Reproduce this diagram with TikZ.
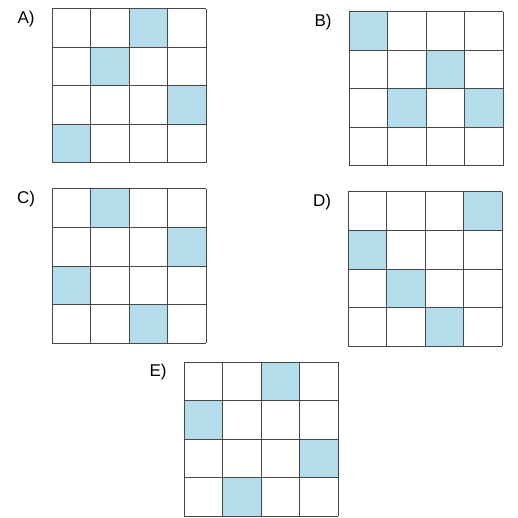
\documentclass[tikz,border=0pt]{standalone}
\usepackage{fontspec}
\setmainfont{Liberation Sans}
\definecolor{cellblue}{RGB}{180,221,235}
\definecolor{gridgray}{RGB}{70,70,70}
\begin{document}
\begin{tikzpicture}
  [x=1pt,y=-1pt,gridline/.style={draw=gridgray,line width=1pt},
   lbl/.style={font=\fontsize{17}{20}\selectfont,inner sep=0pt}]
  \useasboundingbox (0,0) rectangle (517,518);

  % grids: name / left / top / shaded cells (col/row)
  \foreach \name/\x/\y/\cells in {A/52/9/{2/0,1/1,3/2,0/3}, B/349/12/{0/0,2/1,1/2,3/2},
      C/52/189/{1/0,3/1,0/2,2/3}, D/348/192/{3/0,0/1,1/2,2/3}, E/184/362/{2/0,0/1,3/2,1/3}}
  {
    \foreach \c/\r in \cells
      \fill[cellblue] (\x+\c*38.5,\y+\r*38.5) rectangle +(38.5,38.5);
    \foreach \i in {0,...,4} {
      \draw[gridline] (\x+\i*38.5,\y) -- (\x+\i*38.5,\y+154);
      \draw[gridline] (\x,\y+\i*38.5) -- (\x+154,\y+\i*38.5);
    }
    \node[lbl] (lab\name) at (\x-26,\y+10) {\name)};
  }
\end{tikzpicture}
\end{document}
